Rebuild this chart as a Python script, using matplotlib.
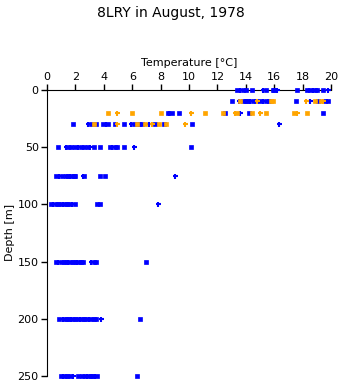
import matplotlib
matplotlib.use("Agg")
import matplotlib.pyplot as plt

# temperature readings (deg C) per depth level (m)
depths = [0, 10, 20, 30, 50, 75, 100, 150, 200, 250]

blue_temps = [
    [13.4, 13.6, 13.8, 14.0, 14.4, 15.2, 15.4, 15.9, 16.0, 16.2, 17.6, 18.3, 18.5, 18.7, 18.9, 19.0, 19.4, 19.8],
    [13.0, 13.5, 13.8, 14.0, 14.1, 14.3, 14.5, 14.7, 15.0, 15.2, 15.4, 15.6, 17.55, 18.5, 19.1, 19.6, 19.8],
    [8.5, 8.6, 8.8, 9.3, 12.5, 13.55, 14.2, 19.4],
    [1.8, 2.9, 3.1, 3.45, 3.95, 4.15, 4.3, 4.75, 5.45, 5.9, 6.1, 6.5, 6.7, 7.2, 7.6, 8.2, 10.2, 16.3],
    [0.75, 1.3, 1.5, 1.7, 2.0, 2.2, 2.4, 2.6, 2.85, 3.0, 3.3, 3.7, 4.4, 4.6, 4.75, 4.95, 5.4, 6.1, 10.1],
    [0.65, 0.85, 1.05, 1.3, 1.45, 1.6, 1.75, 1.9, 2.0, 2.5, 2.6, 3.7, 4.1, 9.0],
    [0.25, 0.45, 0.65, 0.8, 0.95, 1.1, 1.25, 1.4, 1.55, 1.75, 2.0, 3.55, 3.75, 7.8],
    [0.6, 0.8, 1.0, 1.2, 1.35, 1.5, 1.65, 1.8, 1.95, 2.1, 2.25, 2.4, 2.55, 3.1, 3.3, 3.45, 7.0],
    [0.85, 1.1, 1.25, 1.4, 1.55, 1.7, 1.85, 2.0, 2.15, 2.3, 2.45, 2.6, 2.75, 2.95, 3.1, 3.3, 3.45, 3.8, 6.55],
    [0.95, 1.1, 1.25, 1.4, 1.6, 1.85, 2.2, 2.45, 2.65, 2.8, 2.95, 3.1, 3.25, 3.4, 3.55, 6.3],
]

orange_temps = [
    [],
    [13.6, 14.8, 15.8, 15.9, 18.25, 18.9, 19.3, 19.4],
    [4.3, 4.9, 6.0, 8.0, 10.1, 11.1, 12.4, 13.2, 13.4, 14.4, 15.0, 15.4, 17.4, 17.6, 18.3],
    [3.3, 4.9, 6.3, 6.9, 7.4, 7.9, 8.4, 9.7],
    [], [], [], [], [], [],
]

fig = plt.figure(figsize=(3.41, 3.84), dpi=100)
ax = fig.add_axes([0.138, 0.021, 0.833, 0.745])

def draw(temps_by_depth, color, every):
    for d, temps in zip(depths, temps_by_depth):
        for i, t in enumerate(temps):
            if i % every == 1:
                ax.plot(t, d, marker="+", color=color, markersize=3.6, mew=1.5,
                        linestyle="none", clip_on=False, zorder=3)
            else:
                ax.plot(t, d, marker="s", color=color, markersize=2.5, mew=0.5,
                        linestyle="none", clip_on=False, zorder=3)

draw(blue_temps, "#0000ff", 4)
draw(orange_temps, "#ffa500", 3)

ax.set_xlim(0, 20)
ax.set_ylim(250, 0)
ax.set_xticks(range(0, 21, 2))
ax.set_yticks(range(0, 251, 50))
ax.xaxis.tick_top()
ax.xaxis.set_label_position("top")
ax.spines["right"].set_visible(False)
ax.spines["bottom"].set_visible(False)
ax.tick_params(labelsize=8, length=4, width=1, pad=2)
ax.set_xlabel("Temperature [°C]", fontsize=8, labelpad=4)
ax.set_ylabel("Depth [m]", fontsize=8, labelpad=2)
fig.suptitle("8LRY in August, 1978", fontsize=10, y=0.985)

fig.savefig("out.png", dpi=100)
